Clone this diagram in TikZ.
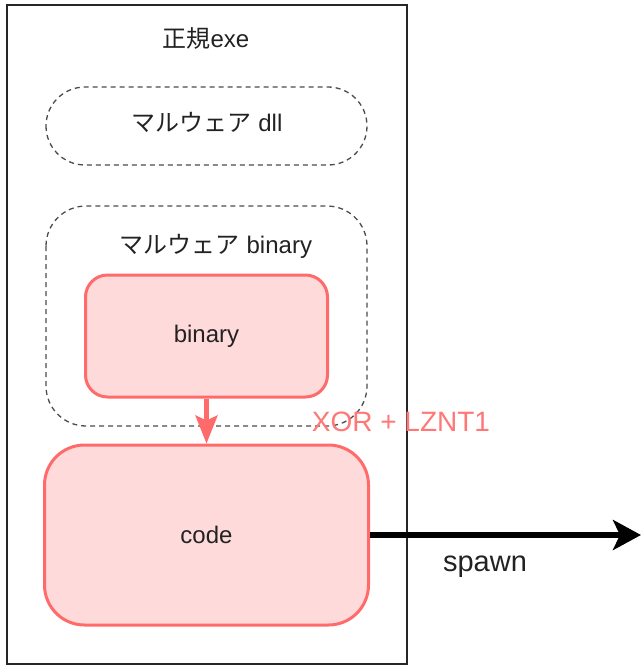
\documentclass[tikz,border=0pt]{standalone}
\usepackage{fontspec}
\setmainfont{Liberation Sans}
\newfontfamily\jpfont{Noto Sans CJK JP}
\usetikzlibrary{arrows.meta}
\definecolor{redfill}{HTML}{FFDADA}
\definecolor{redline}{HTML}{FF6B6B}
\definecolor{redtext}{HTML}{FF7777}
\definecolor{txt}{HTML}{222222}
\begin{document}
\begin{tikzpicture}[x=1pt,y=-1pt,
  every node/.style={text=txt},
  dashbox/.style={draw=black!70,dashed,line width=1.3pt,dash pattern=on 5pt off 4pt},
  redbox/.style={draw=redline,fill=redfill,line width=3pt},
  lbl/.style={font=\fontsize{24}{28}\selectfont}]
\useasboundingbox (0,0) rectangle (641,665);
% host process
\draw[line width=1.5pt,black!85] (7,5) rectangle (407,664);
\node[lbl] (host) at (206,38) {\jpfont 正規\rmfamily exe};
% injected dll
\draw[dashbox,rounded corners=39pt] (46,87) rectangle (367,165);
\node[lbl] (dll) at (207,122) {\jpfont マルウェア\rmfamily{} dll};
% embedded binary container
\draw[dashbox,rounded corners=40pt] (46,206) rectangle (367,426);
\node[lbl] (binlbl) at (216,246) {\jpfont マルウェア\rmfamily{} binary};
% decoded payload and resulting code
\node[redbox,rounded corners=22pt,minimum width=242pt,minimum height=122pt,lbl] (bin) at (206.5,336) {binary};
\node[redbox,rounded corners=40pt,minimum width=324pt,minimum height=180pt,lbl] (code) at (206.5,535) {code};
\draw[redline,line width=4.5pt,-{Stealth[length=28pt,width=22pt,inset=5pt]}] (bin.south) -- (code.north);
\node[text=redtext,font=\fontsize{28}{32}\selectfont] (xor) at (401,422) {XOR + LZNT1};
% spawned process
\coordinate (out) at (641,535);
\draw[line width=6.5pt,-{Stealth[length=28pt,width=30pt,inset=7pt]}] (code.east) -- (out);
\node[font=\fontsize{29}{32}\selectfont] (spawn) at (485,567) {spawn};
\end{tikzpicture}
\end{document}
